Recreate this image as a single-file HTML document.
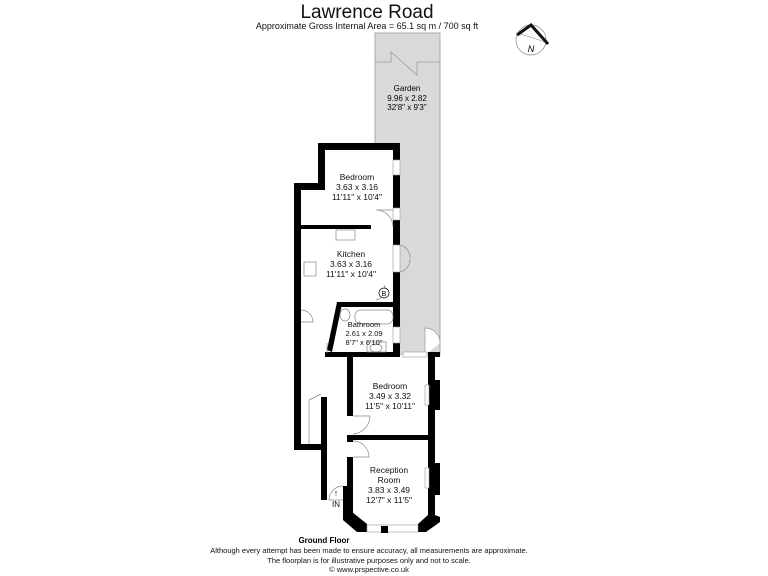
<!DOCTYPE html>
<html><head><style>
body{margin:0;background:#fff;}
svg{display:block;font-family:"Liberation Sans",sans-serif;}
</style></head><body>
<svg width="768" height="576" viewBox="0 0 768 576" xmlns="http://www.w3.org/2000/svg">
<text x="367" y="18" font-size="19" text-anchor="middle" fill="#111">Lawrence Road</text>
<text x="367" y="29" font-size="9" text-anchor="middle" fill="#111">Approximate Gross Internal Area = 65.1 sq m / 700 sq ft</text>
<!-- compass -->
<circle cx="531" cy="40" r="15" fill="none" stroke="#888" stroke-width="0.7"/>
<line x1="518" y1="33" x2="548" y2="43" stroke="#888" stroke-width="0.6"/>
<path d="M517,35 L531,25 L548,44" fill="none" stroke="#111" stroke-width="3"/>
<text x="531" y="52" font-size="9" font-style="italic" text-anchor="middle">N</text>
<!-- garden -->
<rect x="375" y="33" width="65" height="322" fill="#d9d9d9" stroke="#999" stroke-width="0.8"/>
<path d="M375,62 L391,62 L391,52 L417,75 L417,62 L440,62" fill="none" stroke="#999" stroke-width="0.8"/>
<text x="407" y="91" font-size="8" text-anchor="middle">Garden</text>
<text x="407" y="101" font-size="8" text-anchor="middle">9.96 x 2.82</text>
<text x="407" y="110" font-size="8" text-anchor="middle">32'8" x 9'3"</text>
<path d="M425,355 L425,328 A15 15 0 0 1 440 343" fill="#fff" stroke="#999" stroke-width="0.7"/>
<!-- floor white -->
<path d="M322,146 L396,146 L396,355 L436,355 L436,520 L420,528 L364,528 L349,515 L349,500 L325,500 L325,447 L297,447 L297,187 L322,187 Z" fill="#fff"/>
<g fill="#000">
<!-- top bedroom walls -->
<rect x="318" y="143" width="82" height="7"/>
<rect x="318" y="143" width="7" height="47"/>
<rect x="294" y="183" width="31" height="7"/>
<rect x="294" y="183" width="7" height="267"/>
<rect x="393" y="143" width="7" height="214"/>
<rect x="301" y="225" width="70" height="4"/>
<!-- bathroom -->
<rect x="337" y="302" width="58" height="5"/>
<polygon points="337,302 342,304 332,352 327,350"/>
<rect x="325" y="352" width="72" height="5"/>
<rect x="428" y="352" width="12" height="5"/>
<!-- lower right wall -->
<rect x="428" y="352" width="7" height="165"/>
<rect x="429" y="380" width="11" height="30"/>
<rect x="429" y="463" width="11" height="32"/>
<!-- middle bedroom -->
<rect x="347" y="356" width="6" height="60"/>
<rect x="347" y="435" width="88" height="5"/>
<rect x="347" y="435" width="6" height="7"/>
<rect x="347" y="457" width="6" height="58"/>
<rect x="343" y="486" width="8" height="14"/>
<!-- corridor left -->
<rect x="294" y="444" width="33" height="6"/>
<rect x="321" y="397" width="6" height="103"/>
<!-- bottom bay -->
<polygon points="343,500 352,500 352,512 367,524 367,532 357,532 343,520"/>
<polygon points="428,515 435,515 440,517 440,522 426,532 418,532 418,524"/>
<rect x="381" y="526" width="7" height="7"/>
</g>
<!-- windows -->
<g fill="#fff" stroke="#999" stroke-width="0.6">
<rect x="393" y="160" width="7" height="15"/>
<rect x="393" y="208" width="7" height="12"/>
<rect x="393" y="245" width="7" height="27"/>
<rect x="393" y="327" width="7" height="16"/>
<rect x="403" y="352" width="24" height="5"/>
<rect x="367" y="525" width="51" height="7"/>
<rect x="425" y="385" width="4" height="20"/>
<rect x="425" y="468" width="4" height="20"/>
</g>
<rect x="381" y="526" width="7" height="7" fill="#000"/>
<!-- doors -->
<g fill="none" stroke="#888" stroke-width="0.7">
<path d="M393,210 L376,210 A17 17 0 0 1 393 227"/>
<path d="M400,245 A13 13 0 0 1 410 258 M400,272 A13 13 0 0 0 410 259"/>
<path d="M301,310 A12 12 0 0 1 313 322 L301 322"/>
<path d="M327,353 L327,343"/>
<path d="M353,416 L370,416 A18 18 0 0 1 353 434"/>
<path d="M353,441 A16 16 0 0 1 369 457 L353 457"/>
<path d="M309,400 L321,394 M309,400 L309,444"/>
<path d="M343,486 A14 14 0 0 0 329 500 L343 500"/>
<path d="M376,300 A11 11 0 0 0 384 285"/>
<rect x="336" y="230" width="19" height="10"/>
<rect x="304" y="262" width="12" height="14"/>
<rect x="355" y="310" width="38" height="14" rx="6"/>
<ellipse cx="345" cy="315" rx="5" ry="6"/>
<ellipse cx="376" cy="348" rx="6" ry="4"/>
<rect x="367" y="342" width="19" height="10"/>
</g>
<circle cx="384" cy="293" r="5" fill="#fff" stroke="#000" stroke-width="0.7"/>
<text x="384" y="296" font-size="7" text-anchor="middle">B</text>
<!-- labels -->
<g font-size="8.5" text-anchor="middle" fill="#111">
<text x="357" y="180">Bedroom</text>
<text x="357" y="190">3.63 x 3.16</text>
<text x="357" y="200">11'11" x 10'4"</text>
<text x="351" y="257">Kitchen</text>
<text x="351" y="267">3.63 x 3.16</text>
<text x="351" y="277">11'11" x 10'4"</text>
<text x="364" y="327" font-size="7.5">Bathroom</text>
<text x="364" y="336" font-size="7.5">2.61 x 2.09</text>
<text x="364" y="345" font-size="7.5">8'7" x 6'10"</text>
<text x="390" y="389">Bedroom</text>
<text x="390" y="399">3.49 x 3.32</text>
<text x="390" y="409">11'5" x 10'11"</text>
<text x="389" y="473">Reception</text>
<text x="389" y="483">Room</text>
<text x="389" y="493">3.83 x 3.49</text>
<text x="389" y="503">12'7" x 11'5"</text>
<text x="336" y="507" font-size="8">IN</text>
<text x="336" y="496" font-size="9">↑</text>
</g>
<text x="324" y="543" font-size="8" font-weight="bold" text-anchor="middle">Ground Floor</text>
<g font-size="7.5" text-anchor="middle" fill="#111">
<text x="369" y="553">Although every attempt has been made to ensure accuracy, all measurements are approximate.</text>
<text x="369" y="563">The floorplan is for illustrative purposes only and not to scale.</text>
<text x="369" y="572">© www.prspective.co.uk</text>
</g>
</svg>
</body></html>
